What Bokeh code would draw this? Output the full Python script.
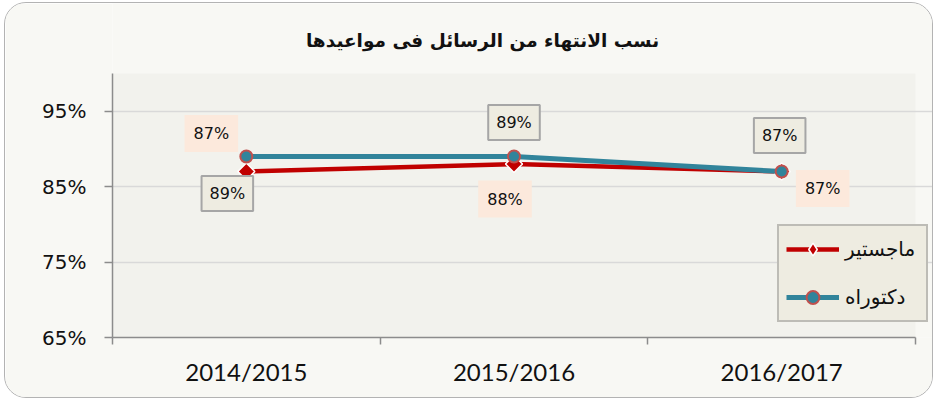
import math
from bokeh.plotting import figure
from bokeh.models import (FixedTicker, Label, Legend, LegendItem, Range1d,
                          PrintfTickFormatter, BoxAnnotation)
from bokeh.embed import file_html
from bokeh.resources import INLINE

# ---- data ----
years = ["2014/2015", "2015/2016", "2016/2017"]
masters = [87, 88, 87]
phd = [89, 89, 87]
y_ticks = [65, 75, 85, 95]
y_min, y_max = 65, 100
masters_name = "ماجستير"
phd_name = "دكتوراه"
title_text = "نسب الانتهاء من الرسائل فى مواعيدها"

# ---- layout/style (not data) ----
masters_offsets = [(-35, 38), (-9, -35), (41, -17)]
phd_offsets = [(-19, -37), (0, 34), (-2, 36)]

RED = "#C00000"
BLUE = "#31849B"
FONT = "DejaVu Sans"

W, H = 929, 396            # figure size
LEFT, BOTTOM = 107, 62     # space for axes
PLOT_W, PLOT_H = 803, 264  # visible plot-area size
FRAME_W, FRAME_H = W - LEFT, H - BOTTOM

n = len(years)
x = [i + 0.5 for i in range(n)]
x_end = n * FRAME_W / PLOT_W
y_end = y_min + (y_max - y_min) * FRAME_H / PLOT_H

p = figure(width=W, height=H, output_backend="svg", toolbar_location=None,
           x_range=Range1d(0, x_end), y_range=Range1d(y_min, y_end),
           min_border_left=LEFT, min_border_right=0, min_border_top=0,
           min_border_bottom=BOTTOM)
p.styles = {"border": "1.5px solid #B3B3B3", "border-radius": "22px",
            "overflow": "hidden", "margin-left": "4px", "margin-top": "2px"}

p.background_fill_color = "#F8F8F4"
p.border_fill_color = "#F8F8F4"
p.outline_line_color = None

# plot-area background
p.add_layout(BoxAnnotation(left=0, right=n, bottom=y_min, top=y_max,
                           fill_color="#F2F2ED", fill_alpha=1,
                           line_color=None, level="image"))

# axes
p.xaxis.ticker = FixedTicker(ticks=x, minor_ticks=list(range(n + 1)))
p.xaxis.major_label_overrides = {xi: yr for xi, yr in zip(x, years)}
p.xaxis.bounds = (0, n)
p.xaxis.major_tick_line_color = None
p.xaxis.major_tick_out = 0
p.xaxis.minor_tick_out = 7
p.xaxis.minor_tick_in = 0
p.xaxis.minor_tick_line_color = "#8C8C8C"
p.xaxis.minor_tick_line_width = 1.5
p.xaxis.axis_line_color = "#8C8C8C"
p.xaxis.axis_line_width = 1.5
p.xaxis.major_label_text_font = "Lato"
p.xaxis.major_label_text_font_size = "24px"
p.xaxis.major_label_text_color = "#111111"
p.xaxis.major_label_standoff = 12

p.yaxis.ticker = FixedTicker(ticks=y_ticks, minor_ticks=[])
p.yaxis.formatter = PrintfTickFormatter(format="%d%%")
p.yaxis.bounds = (y_min, y_max)
p.yaxis.major_tick_out = 8
p.yaxis.major_tick_in = 0
p.yaxis.major_tick_line_color = "#8C8C8C"
p.yaxis.major_tick_line_width = 1.5
p.yaxis.axis_line_color = "#8C8C8C"
p.yaxis.axis_line_width = 1.5
p.yaxis.major_label_text_font = FONT
p.yaxis.major_label_text_font_size = "20px"
p.yaxis.major_label_text_color = "#111111"
p.yaxis.major_label_standoff = 18

p.xgrid.visible = False
p.ygrid.ticker = FixedTicker(ticks=y_ticks, minor_ticks=[])
p.ygrid.grid_line_color = "#D9D9D9"
p.ygrid.grid_line_width = 1.5

# series
m_line = p.line(x, masters, line_color=RED, line_width=4.5)
# diamond used as the legend swatch; sits fully under the rotated square
m_key = p.scatter(x, masters, marker="diamond", size=13,
                  fill_color=RED, line_color="white", line_width=1.5)
m_pts = p.scatter(x, masters, marker="square", angle=math.pi / 4, size=12,
                  fill_color=RED, line_color="white", line_width=1.5)
d_line = p.line(x, phd, line_color=BLUE, line_width=5)
d_pts = p.scatter(x, phd, marker="circle", size=12, fill_color=BLUE,
                  line_color="#C0504D", line_width=2)

# data labels
for xi, v, (dx, dy) in zip(x, masters, masters_offsets):
    p.add_layout(Label(x=xi, y=v, text=f"{v}%", x_offset=dx, y_offset=dy,
                       text_align="center", text_baseline="middle",
                       text_font=FONT, text_font_size="16px",
                       text_color="#111111",
                       background_fill_color="#FCE9DC", padding=9))
for xi, v, (dx, dy) in zip(x, phd, phd_offsets):
    p.add_layout(Label(x=xi, y=v, text=f"{v}%", x_offset=dx, y_offset=dy,
                       text_align="center", text_baseline="middle",
                       text_font=FONT, text_font_size="16px",
                       text_color="#111111",
                       background_fill_color="#EEECE1",
                       border_line_color="#A6A6A6", border_line_width=2,
                       padding=8))

# title (placed in the top band of the frame)
title_cx, title_cy = 477, 37   # px from figure's top-left
p.add_layout(Label(x=(title_cx - LEFT) * n / PLOT_W,
                   y=y_min + (FRAME_H - title_cy) * (y_max - y_min) / PLOT_H,
                   text=title_text, text_align="center", text_baseline="middle",
                   text_font=FONT, text_font_style="bold",
                   text_font_size="18.5px", text_color="#111111"))

# legend
legend = Legend(items=[LegendItem(label=masters_name, renderers=[m_line, m_key]),
                       LegendItem(label=phd_name, renderers=[d_line, d_pts])],
                location=(665, 15))
legend.background_fill_color = "#EEECE1"
legend.background_fill_alpha = 1
legend.border_line_color = "#8C8C8C"
legend.border_line_width = 2
legend.label_text_font = FONT
legend.label_text_font_size = "20px"
legend.label_text_color = "#111111"
legend.glyph_width = 53
legend.glyph_height = 32
legend.label_height = 32
legend.label_width = 74
legend.spacing = 16
legend.padding = 7
legend.margin = 0
legend.label_standoff = 6
p.add_layout(legend)

open("out.html", "w").write(file_html(p, INLINE))
